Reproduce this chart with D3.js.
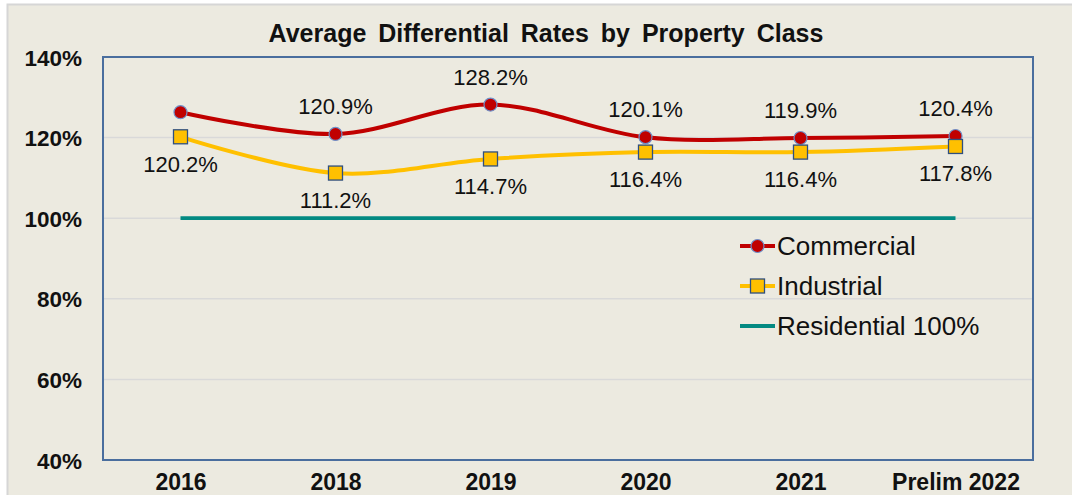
<!DOCTYPE html>
<html>
<head>
<meta charset="utf-8">
<script src="https://cdn.jsdelivr.net/npm/d3@7"></script>
<style>
  body { margin: 0; background: #fff; }
  svg { display: block; font-family: "Liberation Sans", Arial, sans-serif; }
</style>
</head>
<body>
<svg id="chart" width="1072" height="495"></svg>
<script>
// chart data
const years = ['2016', '2018', '2019', '2020', '2021', 'Prelim 2022'];
const commercial = [126.3, 120.9, 128.2, 120.1, 119.9, 120.4];
const commercialLabels = [null, '120.9%', '128.2%', '120.1%', '119.9%', '120.4%'];
const industrial = [120.2, 111.2, 114.7, 116.4, 116.4, 117.8];
const industrialLabels = ['120.2%', '111.2%', '114.7%', '116.4%', '116.4%', '117.8%'];
const residential = [100, 100, 100, 100, 100, 100];
const yTicks = [40, 60, 80, 100, 120, 140];
const legendNames = ['Commercial', 'Industrial', 'Residential 100%'];

const WIDTH = 1072, HEIGHT = 495;
const MARGIN = {top: 57, right: 40, bottom: 35, left: 103};

const svg = d3.select('#chart');

// outer chart area
svg.append('rect')
    .attr('x', 7.5).attr('y', 4.5)
    .attr('width', 1100).attr('height', 520)
    .attr('fill', '#ECEAE0')
    .attr('stroke', '#D6D6D6')
    .attr('stroke-width', 2);

const xScale = d3.scalePoint()
    .domain(years)
    .range([MARGIN.left, WIDTH - MARGIN.right + 1])
    .padding(0.5);

const yScale = d3.scaleLinear()
    .domain([40, 140])
    .range([HEIGHT - MARGIN.bottom, MARGIN.top]);

// gridlines
svg.append('g')
    .selectAll('line')
    .data(yTicks.slice(1, -1))
    .join('line')
    .attr('x1', MARGIN.left).attr('x2', WIDTH - MARGIN.right + 1)
    .attr('y1', d => yScale(d)).attr('y2', d => yScale(d))
    .attr('stroke', '#D9D9D9')
    .attr('stroke-width', 1.5);

// plot border
svg.append('rect')
    .attr('x', MARGIN.left).attr('y', yScale(140))
    .attr('width', WIDTH - MARGIN.right + 1 - MARGIN.left)
    .attr('height', yScale(40) - yScale(140))
    .attr('fill', 'none')
    .attr('stroke', '#4A6E9E')
    .attr('stroke-width', 2);

// y axis
const yAxis = d3.axisLeft(yScale)
    .tickValues(yTicks)
    .tickSize(0)
    .tickPadding(0)
    .tickFormat(d => d + '%');
const yg = svg.append('g')
    .attr('transform', `translate(82, 0)`)
    .call(yAxis);
yg.select('.domain').remove();
yg.selectAll('text')
    .attr('font-family', '"Liberation Sans", Arial, sans-serif')
    .attr('font-size', 22.5)
    .attr('font-weight', 'bold')
    .attr('fill', '#111')
    .attr('dy', '0.36em');

// x axis
const xAxis = d3.axisBottom(xScale).tickSize(0).tickPadding(0);
const xg = svg.append('g')
    .attr('transform', `translate(0, ${yScale(40)})`)
    .call(xAxis);
xg.select('.domain').remove();
xg.selectAll('text')
    .attr('font-family', '"Liberation Sans", Arial, sans-serif')
    .attr('font-size', 23)
    .attr('font-weight', 'bold')
    .attr('fill', '#111')
    .attr('y', 30)
    .attr('dy', 0);

// title
svg.append('text')
    .attr('x', 546).attr('y', 42)
    .attr('text-anchor', 'middle')
    .attr('font-size', 25)
    .attr('font-weight', 'bold')
    .attr('word-spacing', 5)
    .attr('fill', '#111')
    .text('Average Differential Rates by Property Class');

const line = d3.line()
    .x((d, i) => xScale(years[i]))
    .y(d => yScale(d))
    .curve(d3.curveCatmullRom.alpha(0.5));

// residential
svg.append('path')
    .datum(residential)
    .attr('d', d3.line().x((d, i) => xScale(years[i])).y(d => yScale(d)))
    .attr('fill', 'none')
    .attr('stroke', '#038A82')
    .attr('stroke-width', 3.8);

// industrial
svg.append('path')
    .datum(industrial)
    .attr('d', line)
    .attr('fill', 'none')
    .attr('stroke', '#FFC000')
    .attr('stroke-width', 4);

// commercial
svg.append('path')
    .datum(commercial)
    .attr('d', line)
    .attr('fill', 'none')
    .attr('stroke', '#C00000')
    .attr('stroke-width', 4);

svg.append('g')
    .selectAll('circle')
    .data(commercial)
    .join('circle')
    .attr('cx', (d, i) => xScale(years[i]))
    .attr('cy', d => yScale(d))
    .attr('r', 6.5)
    .attr('fill', '#C00000')
    .attr('stroke', '#6F8FC8')
    .attr('stroke-width', 1.2);

svg.append('g')
    .selectAll('rect')
    .data(industrial)
    .join('rect')
    .attr('x', (d, i) => xScale(years[i]) - 7)
    .attr('y', d => yScale(d) - 7)
    .attr('width', 14).attr('height', 14)
    .attr('fill', '#FFC000')
    .attr('stroke', '#2F4F7F')
    .attr('stroke-width', 1.3);

// data labels
svg.append('g')
    .selectAll('text')
    .data(commercial)
    .join('text')
    .attr('x', (d, i) => xScale(years[i]))
    .attr('y', d => yScale(d) - 20)
    .attr('text-anchor', 'middle')
    .attr('font-size', 22)
    .attr('fill', '#111')
    .text((d, i) => commercialLabels[i] || '');

svg.append('g')
    .selectAll('text')
    .data(industrial)
    .join('text')
    .attr('x', (d, i) => xScale(years[i]))
    .attr('y', d => yScale(d) + 35)
    .attr('text-anchor', 'middle')
    .attr('font-size', 22)
    .attr('fill', '#111')
    .text((d, i) => industrialLabels[i]);

// legend
const legendColors = ['#C00000', '#FFC000', '#038A82'];
const legend = svg.append('g')
    .selectAll('g')
    .data(legendNames)
    .join('g')
    .attr('transform', (d, i) => `translate(740, ${246 + i * 40})`);

legend.append('line')
    .attr('x1', 0).attr('x2', 35)
    .attr('stroke', (d, i) => legendColors[i])
    .attr('stroke-width', 3.8);

legend.filter((d, i) => i === 0).append('circle')
    .attr('cx', 17.5).attr('r', 6.5)
    .attr('fill', '#C00000')
    .attr('stroke', '#6F8FC8')
    .attr('stroke-width', 1.2);

legend.filter((d, i) => i === 1).append('rect')
    .attr('x', 10.5).attr('y', -7)
    .attr('width', 14).attr('height', 14)
    .attr('fill', '#FFC000')
    .attr('stroke', '#2F4F7F')
    .attr('stroke-width', 1.3);

legend.append('text')
    .attr('x', 37)
    .attr('dy', '0.36em')
    .attr('font-size', 26)
    .attr('fill', '#111')
    .text(d => d);
</script>
</body>
</html>
